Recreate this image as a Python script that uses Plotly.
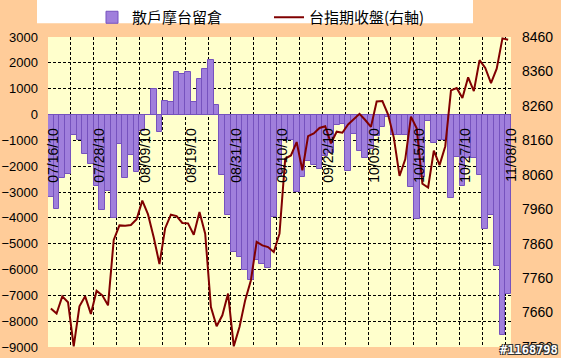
import plotly.graph_objects as go

tick_labels = ['07/16/10', '07/28/10', '08/09/10', '08/19/10', '08/31/10', '09/10/10',
               '09/22/10', '10/05/10', '10/15/10', '10/27/10', '11/08/10']

retail_oi = [
    -3200, -3650, -2450, -2300, -800, -980, -1520, -1900, -2750, -3700,
    -2950, -4000, -1130, -2440, -1560, -2230, -620, 0, 1000, -680,
    540, 490, 1630, 1580, 1640, 480, 1360, 1780, 2100, 350,
    -2350, -3900, -5320, -5520, -6000, -6420, -5650, -5770, -5930, -3970,
    -2400, -1000, -1000, -3000, -2400, -1800, -1970, -2100, -1600, -1500,
    -400, -350, -2190, -740, -1400, -1700, -1350, -850, -500, -100,
    -800, -800, -800, -2800, -4050, -2400, -250, -1100, -1000, -1000,
    -3250, -1650, -2750, -1700, -1700, -2350, -4450, -3900, -5850, -8550,
    -6950,
]

taiex_close = [
    7672, 7657, 7707, 7690, 7562, 7678, 7707, 7656, 7723, 7710,
    7681, 7871, 7913, 7912, 7914, 7931, 7985, 7945, 7878, 7801,
    7905, 7944, 7940, 7920, 7919, 7886, 7952, 7889, 7676, 7620,
    7652, 7715, 7562, 7618, 7696, 7754, 7865, 7855, 7850, 7836,
    7889, 8107, 8116, 8155, 8073, 8172, 8180, 8196, 8201, 8151,
    8185, 8182, 8206, 8222, 8237, 8219, 8199, 8273, 8274, 8235,
    8168, 8057, 8105, 8229, 8195, 8034, 8023, 8130, 8088, 8143,
    8305, 8312, 8283, 8343, 8303, 8393, 8370, 8326, 8368, 8456,
    8452,
]

x = list(range(len(retail_oi)))
label_pos = x[::8]
grid_pos = [i - 0.5 for i in x[::4]]

FONT = 'Liberation Sans, Arial, sans-serif'
CJK = 'Noto Sans CJK TC, Noto Sans CJK SC, sans-serif'
DASH = '3px,2px'

fig = go.Figure()
fig.add_trace(go.Bar(
    x=x, y=retail_oi, name='散戶摩台留倉',
    marker=dict(color='#A07FDC', line=dict(color='#7652BE', width=1)),
    xaxis='x', yaxis='y',
))
fig.add_trace(go.Scatter(
    x=x, y=taiex_close, name='台指期收盤(右軸)', mode='lines',
    line=dict(color='#800000', width=2),
    xaxis='x2', yaxis='y2',
))

xr = [-0.5, len(x) - 0.5]

fig.update_layout(
    width=561, height=358, autosize=False,
    margin=dict(l=48, r=50, t=37, b=11, pad=0, autoexpand=False),
    paper_bgcolor='#FFCC99',
    plot_bgcolor='#FFFFCC',
    bargap=0,
    showlegend=True,
    legend=dict(
        orientation='h', xref='container', yref='container',
        x=92 / 561, y=1 - 1 / 358, xanchor='left', yanchor='top',
        bgcolor='rgba(0,0,0,0)', borderwidth=0,
        font=dict(family=CJK, size=15, color='black'),
        entrywidth=132, itemwidth=30,
    ),
    xaxis=dict(
        range=xr, anchor='y',
        tickmode='array', tickvals=grid_pos,
        showticklabels=False, ticks='',
        showgrid=True, gridcolor='#000000', griddash=DASH, gridwidth=1,
        zeroline=False, showline=False,
    ),
    xaxis2=dict(
        range=xr, overlaying='x', anchor='free', position=0.75,
        tickmode='array', tickvals=label_pos, ticktext=tick_labels,
        tickangle=-90, ticks='', showgrid=False, zeroline=False,
        showline=False,
        ticklabelstandoff=10, ticklabelshift=3,
        tickfont=dict(family=FONT, size=14, color='black'),
    ),
    yaxis=dict(
        range=[-9000, 3000], tick0=0, dtick=1000, anchor='x',
        showgrid=True, gridcolor='#000000', griddash=DASH, gridwidth=1,
        zeroline=True, zerolinecolor='black', zerolinewidth=1,
        ticks='', ticklabelstandoff=9,
        tickfont=dict(family=FONT, size=13, color='black'),
    ),
    yaxis2=dict(
        range=[7560, 8460], overlaying='y', side='right', anchor='x',
        tickmode='array', tickvals=list(range(7560, 8461, 100)),
        showgrid=False, zeroline=False, ticks='', ticklabelstandoff=10,
        tickfont=dict(family=FONT, size=14, color='black'),
    ),
    shapes=[dict(
        type='rect', xref='paper', yref='paper', layer='above',
        x0=(37 - 48) / 463, x1=(473 - 48) / 463,
        y0=(346.7 - 23) / 310, y1=(346.7 + 2) / 310,
        fillcolor='white', line=dict(width=0),
    )],
    annotations=[dict(
        text='#1168798', xref='paper', yref='paper',
        x=(529 - 48) / 463, y=(346.7 - 350) / 310,
        xanchor='center', yanchor='middle', showarrow=False,
        font=dict(family='DejaVu Sans Mono', size=12, color='white',
                  weight='bold',
                  shadow='1px 1px 0 #333, -1px -1px 0 #333, 1px -1px 0 #333, -1px 1px 0 #333'),
    )],
)

fig.write_html('out.html')
